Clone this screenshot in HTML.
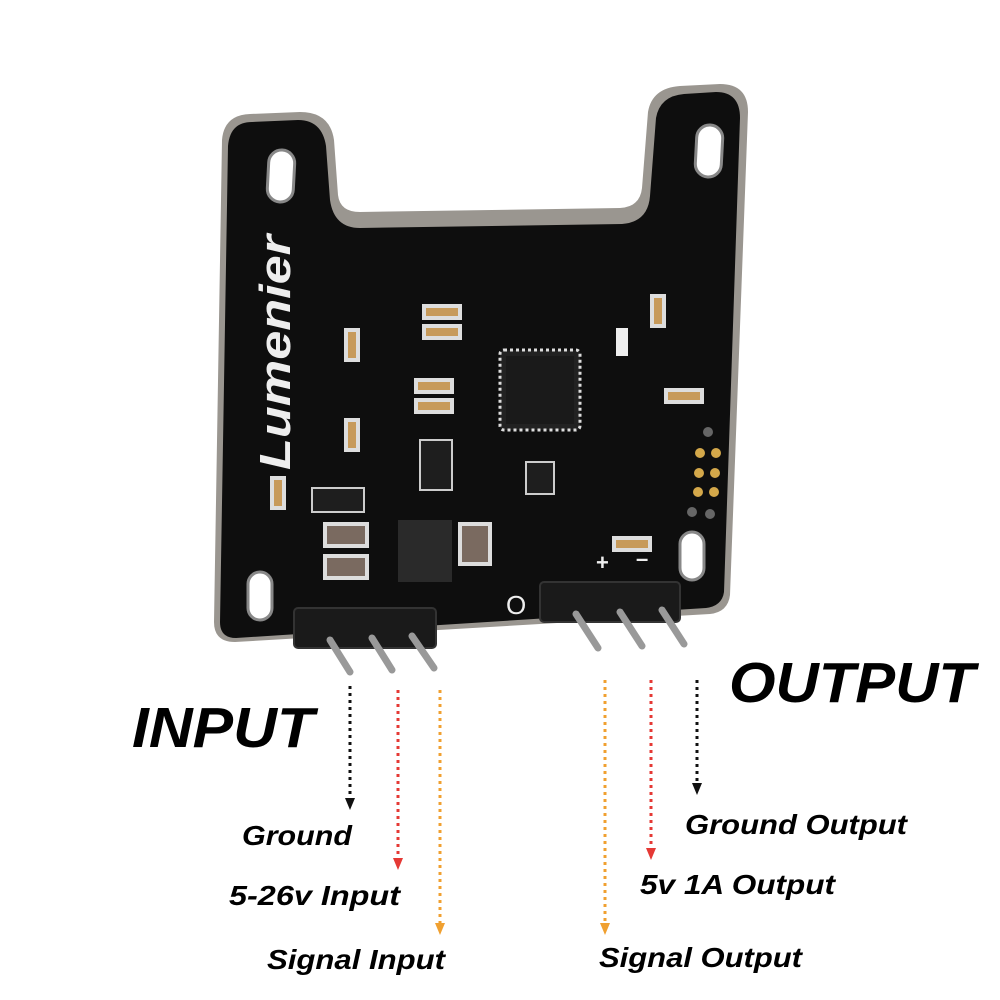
<!DOCTYPE html>
<html><head><style>
html,body{margin:0;padding:0;background:#fff;}
svg{display:block}
text{font-family:"Liberation Sans",Arial,sans-serif;font-weight:bold;font-style:italic;fill:#000}
</style></head><body>
<svg width="1000" height="1000" viewBox="0 0 1000 1000">
<!-- board silver edge -->
<path d="M222,140 Q224,115 250,114 L300,112 Q330,112 334,140 L338,195 Q340,212 360,212 L620,208 Q640,207 642,188 L648,112 Q652,88 680,86 L720,84 Q748,84 748,112 L730,595 Q728,612 710,614 L235,642 Q214,642 214,622 Z" fill="#9a9690"/>
<path d="M228,146 Q230,122 252,122 L298,120 Q322,120 326,146 L330,200 Q334,228 360,228 L622,224 Q648,222 650,196 L656,118 Q660,96 684,94 L716,92 Q740,92 740,118 L724,592 Q722,606 706,608 L236,638 Q220,638 220,622 Z" fill="#0e0e0e"/>
<!-- holes -->
<rect x="268" y="150" width="26" height="52" rx="13" fill="#fff" stroke="#888" stroke-width="3" transform="rotate(3 281 176)"/>
<rect x="696" y="125" width="26" height="52" rx="13" fill="#fff" stroke="#888" stroke-width="3" transform="rotate(3 709 151)"/>
<rect x="248" y="572" width="24" height="48" rx="12" fill="#fff" stroke="#888" stroke-width="3"/>
<rect x="680" y="532" width="24" height="48" rx="12" fill="#fff" stroke="#888" stroke-width="3"/>
<text x="0" y="0" transform="translate(290,470) rotate(-90)" textLength="235" lengthAdjust="spacingAndGlyphs" style="font-size:44px;fill:#eee">Lumenier</text>
<!-- chip -->
<rect x="500" y="350" width="80" height="80" rx="4" fill="#222" stroke="#ddd" stroke-width="3" stroke-dasharray="3 3"/>
<rect x="506" y="356" width="68" height="68" fill="#1a1a1a"/>
<g fill="#c79a5a" stroke="#ddd" stroke-width="4">
<rect x="424" y="306" width="36" height="12"/><rect x="424" y="326" width="36" height="12"/>
<rect x="416" y="380" width="36" height="12"/><rect x="416" y="400" width="36" height="12"/>
<rect x="346" y="330" width="12" height="30"/><rect x="346" y="420" width="12" height="30"/>
<rect x="272" y="478" width="12" height="30"/><rect x="652" y="296" width="12" height="30"/>
<rect x="666" y="390" width="36" height="12"/><rect x="614" y="538" width="36" height="12"/>
</g>
<g fill="#7a6a60" stroke="#ddd" stroke-width="4">
<rect x="325" y="524" width="42" height="22"/><rect x="325" y="556" width="42" height="22"/>
<rect x="460" y="524" width="30" height="40"/>
</g>
<rect x="398" y="520" width="54" height="62" fill="#2a2a2a"/>
<rect x="420" y="440" width="32" height="50" fill="#1e1e1e" stroke="#ccc" stroke-width="2"/>
<rect x="312" y="488" width="52" height="24" fill="#1e1e1e" stroke="#ccc" stroke-width="2"/>
<rect x="526" y="462" width="28" height="32" fill="#1e1e1e" stroke="#ccc" stroke-width="2"/>
<rect x="616" y="328" width="12" height="28" fill="#eee"/>
<g fill="#d4a84a"><circle cx="700" cy="453" r="5"/><circle cx="716" cy="453" r="5"/><circle cx="699" cy="473" r="5"/><circle cx="715" cy="473" r="5"/><circle cx="698" cy="492" r="5"/><circle cx="714" cy="492" r="5"/></g>
<g fill="#666"><circle cx="708" cy="432" r="5"/><circle cx="692" cy="512" r="5"/><circle cx="710" cy="514" r="5"/></g>
<text x="596" y="570" style="font-size:22px;fill:#eee;font-style:normal">+</text>
<text x="636" y="566" style="font-size:22px;fill:#eee;font-style:normal">–</text>
<text x="506" y="614" style="font-size:26px;fill:#eee;font-style:normal;font-weight:normal">O</text>
<g fill="#1a1a1a" stroke="#333" stroke-width="2">
<rect x="294" y="608" width="142" height="40" rx="4"/>
<rect x="540" y="582" width="140" height="40" rx="4"/>
</g>
<g stroke="#999" stroke-width="7" stroke-linecap="round">
<line x1="330" y1="640" x2="350" y2="672"/><line x1="372" y1="638" x2="392" y2="670"/><line x1="412" y1="636" x2="434" y2="668"/>
<line x1="576" y1="614" x2="598" y2="648"/><line x1="620" y1="612" x2="642" y2="646"/><line x1="662" y1="610" x2="684" y2="644"/>
</g>
<g stroke-width="3" stroke-dasharray="3 4" fill="none">
<line x1="350" y1="686" x2="350" y2="800" stroke="#111"/>
<line x1="398" y1="690" x2="398" y2="860" stroke="#e53935"/>
<line x1="440" y1="690" x2="440" y2="925" stroke="#f0a030"/>
<line x1="605" y1="680" x2="605" y2="925" stroke="#f0a030"/>
<line x1="651" y1="680" x2="651" y2="850" stroke="#e53935"/>
<line x1="697" y1="680" x2="697" y2="785" stroke="#111"/>
</g>
<path d="M345,798 L355,798 L350,810 z" fill="#111"/>
<path d="M393,858 L403,858 L398,870 z" fill="#e53935"/>
<path d="M435,923 L445,923 L440,935 z" fill="#f0a030"/>
<path d="M600,923 L610,923 L605,935 z" fill="#f0a030"/>
<path d="M646,848 L656,848 L651,860 z" fill="#e53935"/>
<path d="M692,783 L702,783 L697,795 z" fill="#111"/>
<text x="132" y="747" textLength="182" lengthAdjust="spacingAndGlyphs" style="font-size:57px">INPUT</text>
<text x="729" y="702" textLength="246" lengthAdjust="spacingAndGlyphs" style="font-size:57px">OUTPUT</text>
<text x="242" y="845" textLength="110" lengthAdjust="spacingAndGlyphs" style="font-size:28px">Ground</text>
<text x="229" y="905" textLength="171" lengthAdjust="spacingAndGlyphs" style="font-size:28px">5-26v Input</text>
<text x="267" y="969" textLength="178" lengthAdjust="spacingAndGlyphs" style="font-size:28px">Signal Input</text>
<text x="685" y="834" textLength="222" lengthAdjust="spacingAndGlyphs" style="font-size:28px">Ground Output</text>
<text x="640" y="894" textLength="195" lengthAdjust="spacingAndGlyphs" style="font-size:28px">5v 1A Output</text>
<text x="599" y="967" textLength="203" lengthAdjust="spacingAndGlyphs" style="font-size:28px">Signal Output</text>
</svg>
</body></html>
